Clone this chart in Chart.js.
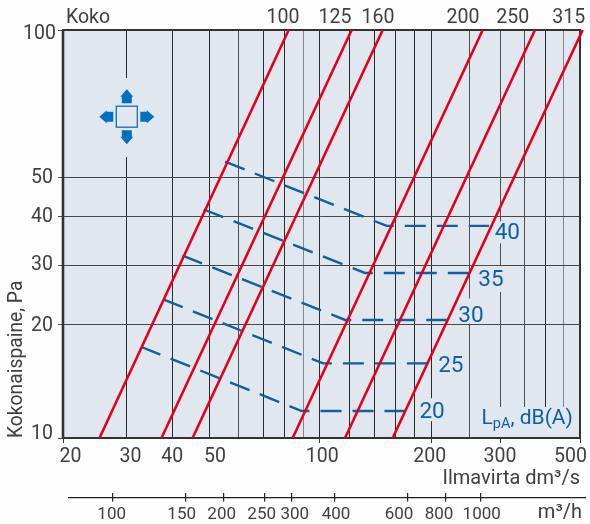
<!DOCTYPE html>
<html>
<head>
<meta charset="utf-8">
<style>html,body{margin:0;padding:0;background:#fdfdfd}canvas{display:block}</style>
<script src="https://cdn.jsdelivr.net/npm/chart.js@4"></script>
</head>
<body>
<canvas id="c" width="590" height="524"></canvas>
<script>
// ---- data ----
const pressureEnds = [10, 100];
const size100 = [25.3, 82.2];
const size125 = [37.4, 121.9];
const size160 = [45.1, 147.7];
const size200 = [84.3, 270.7];
const size250 = [117, 375];
const size315 = [157.1, 508.7];
const sizeLabels = ['100', '125', '160', '200', '250', '315'];

const db40Flow = [55.0, 151.4, 281.2];
const db40Pressure = [53.9, 37.9, 37.9];
const db35Flow = [48.2, 132.3, 251];
const db35Pressure = [41.7, 28.5, 28.5];
const db30Flow = [42.5, 117, 218.6];
const db30Pressure = [31.8, 20.7, 20.7];
const db25Flow = [37.8, 102.2, 194.4];
const db25Pressure = [23.8, 15.8, 15.8];
const db20Flow = [32.9, 89.3, 170.6];
const db20Pressure = [17.5, 11.8, 11.8];
const dbLabels = ['40', '35', '30', '25', '20'];

const flowGridTicks = [20, 30, 40, 50, 60, 70, 80, 90, 100, 120, 140, 160, 180, 200, 250, 300, 350, 400, 450, 500];
const flowLabelled = [20, 30, 40, 50, 100, 200, 300, 500];
const flowMarked = [20, 100, 200, 300, 500];
const pressureTicks = [10, 20, 30, 40, 50, 100];
const hourlyTicks = [100, 150, 200, 250, 300, 400, 600, 800, 1000];

// ---- styling ----
const FONT = 'Roboto';
const INK = '#3f3f42';
const RED = '#e2001a';
const BLUE = '#0f5fa3';
const PLOT = '#e0e7ef';

// log axis whose decades are as unevenly drawn as in the printed chart
class KnotLogScale extends Chart.LogarithmicScale {
  _seg(v) {
    const k = this.options.knots; let i = 0;
    while (i < k.length - 2 && v > k[i + 1][0]) i++;
    return [k[i], k[i + 1]];
  }
  _span() { return this.isHorizontal() ? [this.left, this.right] : [this.bottom, this.top]; }
  getPixelForValue(v) {
    if (v === null || v === undefined || isNaN(v)) return NaN;
    const [a, b] = this._seg(v);
    const f = a[1] + (Math.log(v / a[0]) / Math.log(b[0] / a[0])) * (b[1] - a[1]);
    const [s, e] = this._span();
    return s + f * (e - s);
  }
  getValueForPixel(p) {
    const [s, e] = this._span();
    const f = (p - s) / (e - s);
    const k = this.options.knots; let i = 0;
    while (i < k.length - 2 && f > k[i + 1][1]) i++;
    const a = k[i], b = k[i + 1];
    return a[0] * Math.pow(b[0] / a[0], (f - a[1]) / (b[1] - a[1]));
  }
  _computeLabelItems(ca) {
    const items = super._computeLabelItems(ca);
    const n = this.options.labelNudge || {};
    items.forEach((it, i) => {
      const t = this.ticks[i]; const d = t && n[t.label];
      if (d) { it.options.translation[0] += d[0]; it.options.translation[1] += d[1]; }
    });
    return items;
  }
}
KnotLogScale.id = 'knotlog';
KnotLogScale.defaults = Chart.LogarithmicScale.defaults;
Chart.register(KnotLogScale);

const flowKnots = [[20, 0], [30, .1219], [40, .2114], [50, .2843], [100, .4965], [200, .7132], [300, .8453], [500, 1]];
const pressureKnots = [[10, 0], [20, .2770], [30, .4230], [40, .5422], [50, .6380], [100, 1]];
const hourlyKnots = [[100, .0967], [150, .2379], [200, .3114], [250, .3897], [300, .4424], [400, .5255], [600, .6673], [800, .7402], [1000, .8085]];

const pts = (xs, ys) => xs.map((x, i) => ({ x, y: ys[i] }));
const redSet = (xs, label) => ({ label, data: pts(xs, pressureEnds), borderColor: RED, borderWidth: 2.6, pointRadius: 0, clip: false, tension: 0 });
const blueSet = (xs, ys, label) => ({ label, data: pts(xs, ys), borderColor: BLUE, borderWidth: 2.4, borderDash: [21, 11], pointRadius: 0, tension: 0 });

const dbOffsets = { '40': [18.2, 6.5], '35': [21, 6], '30': [24.3, -4.4], '25': [23.7, 2.2], '20': [26, 0.2] };
const dbMasks = { '40': [-13, -11, 26, 22], '35': [-13, -13, 26, 26], '30': [-13, -17, 26, 25], '25': [-13, -11, 26, 22], '20': [-13, -13, 26, 23] };
const noSidePadding = s => { s.paddingLeft = 0; s.paddingRight = 0; };

const decor = {
  id: 'decor',
  beforeDraw(chart) {
    const a = chart.chartArea, c = chart.ctx;
    c.save(); c.fillStyle = PLOT; c.fillRect(a.left, a.top, a.right - a.left, a.bottom - a.top); c.restore();
  },
  beforeDatasetsDraw(chart) {
    const a = chart.chartArea, c = chart.ctx, { x, y } = chart.scales;
    c.save();
    c.fillStyle = PLOT;
    dbLabels.forEach((l) => {
      const ds = chart.data.datasets.find(d => d.label === 'dB' + l);
      const p = ds.data[2], o = dbOffsets[l], m = dbMasks[l];
      const cx = x.getPixelForValue(p.x) + o[0], cy = y.getPixelForValue(p.y) + o[1];
      c.fillRect(cx + m[0], cy + m[1], m[2], m[3]);
    });
    c.fillRect(482, 407, 88, 30);
    c.fillRect(98, 78, 56, 79);
    c.strokeStyle = '#333335'; c.lineWidth = 2;
    c.strokeRect(a.left, a.top, a.right - a.left, a.bottom - a.top);
    c.lineWidth = 2.6; c.beginPath(); c.moveTo(a.left, a.top); c.lineTo(a.left, a.bottom); c.stroke();
    // second flow axis line
    c.strokeStyle = '#222'; c.lineWidth = 1.2;
    c.beginPath(); c.moveTo(68, 497.6); c.lineTo(586, 497.6); c.stroke();
    c.restore();
  },
  afterDatasetsDraw(chart) {
    const c = chart.ctx, { x, y } = chart.scales;
    c.save();
    c.fillStyle = BLUE; c.textAlign = 'center'; c.textBaseline = 'middle';
    c.font = '22.5px ' + FONT;
    dbLabels.forEach((l) => {
      const ds = chart.data.datasets.find(d => d.label === 'dB' + l);
      const p = ds.data[2], o = dbOffsets[l];
      c.fillText(l, x.getPixelForValue(p.x) + o[0], y.getPixelForValue(p.y) + o[1] + 1);
    });
    c.textAlign = 'left'; c.textBaseline = 'alphabetic';
    let tx = 481.5;
    c.font = '21px ' + FONT; c.fillText('L', tx, 424); tx += c.measureText('L').width;
    c.font = '14.5px ' + FONT; c.fillText('pA', tx, 428); tx += c.measureText('pA').width;
    c.font = '21px ' + FONT; c.fillText(', dB(A)', tx, 424);
    c.fillStyle = INK; c.textAlign = 'right'; c.font = '20px ' + FONT;
    c.fillText('m³/h', 582, 518);
    // airflow-direction symbol
    const cx = 126.8, cy = 116.7, A = '#0070c0';
    c.strokeStyle = '#1c6cb0'; c.lineWidth = 1.3; c.fillStyle = PLOT;
    c.fillRect(cx - 10.5, cy - 10.5, 21, 21); c.strokeRect(cx - 10.5, cy - 10.5, 21, 21);
    c.fillStyle = A;
    for (let r = 0; r < 4; r++) {
      c.save(); c.translate(cx, cy); c.rotate(r * Math.PI / 2);
      c.beginPath();
      c.moveTo(0, -27.5); c.lineTo(6.5, -20); c.lineTo(5, -20); c.lineTo(5, -13.5);
      c.lineTo(-5, -13.5); c.lineTo(-5, -20); c.lineTo(-6.5, -20); c.closePath(); c.fill();
      c.restore();
    }
    c.restore();
  }
};

const tickFont = { family: FONT, size: 19.5, weight: '400' };
new Chart(document.getElementById('c'), {
  type: 'line',
  data: {
    datasets: [
      redSet(size100, '100'), redSet(size125, '125'), redSet(size160, '160'),
      redSet(size200, '200'), redSet(size250, '250'), redSet(size315, '315'),
      blueSet(db40Flow, db40Pressure, 'dB40'), blueSet(db35Flow, db35Pressure, 'dB35'),
      blueSet(db30Flow, db30Pressure, 'dB30'), blueSet(db25Flow, db25Pressure, 'dB25'),
      blueSet(db20Flow, db20Pressure, 'dB20')
    ]
  },
  options: {
    responsive: false, animation: false, parsing: true,
    layout: { autoPadding: false, padding: { left: 0, top: 0, bottom: 0, right: 10 } },
    plugins: { legend: { display: false }, tooltip: { enabled: false }, title: { display: false } },
    scales: {
      x: {
        type: 'knotlog', position: 'bottom', min: 20, max: 500, weight: 0, knots: flowKnots,
        labelNudge: { '20': [7.5, 0], '30': [4.5, 0], '50': [5, 0], '100': [2.5, 0], '200': [-2, 0], '500': [-9.5, 0] },
        afterBuildTicks(s) { s.ticks = flowGridTicks.map(value => ({ value })); },
        afterFit(s) { s.height = 54.6; noSidePadding(s); },
        grid: {
          tickLength: 5, lineWidth: 1,
          color: c => [90, 450].includes(c.tick && c.tick.value) ? '#84868c' : [60, 350, 300, 250].includes(c.tick && c.tick.value) ? '#4e4f52' : '#2b2b2d',
          tickColor: c => flowMarked.includes(c.tick && c.tick.value) ? '#333' : 'rgba(0,0,0,0)'
        },
        border: { display: false },
        ticks: {
          autoSkip: false, maxRotation: 0, minRotation: 0, padding: 2, color: INK, font: tickFont,
          callback: v => flowLabelled.includes(v) ? String(v) : ''
        },
        title: { display: true, text: 'Ilmavirta dm³/s', align: 'end', color: INK, font: { family: FONT, size: 20, weight: '400' }, padding: { top: 0, bottom: 2 } }
      },
      x2: {
        type: 'knotlog', position: 'bottom', min: 100, max: 1000, weight: 1, knots: hourlyKnots,
        labelNudge: { '100': [-1.3, 0], '150': [-4.3, 0], '200': [-2.3, 0], '250': [-2.8, 0], '300': [3, 0], '400': [1.3, 0], '600': [-9, 0], '800': [-6.7, 0], '1000': [.7, 0] },
        afterBuildTicks(s) { s.ticks = hourlyTicks.map(value => ({ value })); },
        afterFit(s) { s.height = 31.4; noSidePadding(s); },
        grid: { drawOnChartArea: false, tickLength: 9, lineWidth: 1.2, tickColor: '#222' },
        border: { display: false },
        ticks: { autoSkip: false, maxRotation: 0, minRotation: 0, padding: 3, color: INK, font: { family: FONT, size: 17, weight: '400' }, callback: v => String(v) }
      },
      xTop: {
        type: 'knotlog', position: 'top', min: 20, max: 500, knots: flowKnots,
        labelNudge: { 'Koko': [25, 0], '100': [-5.7, 0], '125': [-16.7, 0], '160': [-4.7, 0], '200': [-19.7, 0], '250': [-22.3, 0], '315': [-14, 0] },
        afterBuildTicks(s) {
          const tops = [size100, size125, size160, size200, size250, size315].map(a => a[1]);
          s.ticks = [20].concat(tops).map(value => ({ value }));
        },
        afterFit(s) { s.height = 30; noSidePadding(s); },
        grid: { display: false, drawTicks: false }, border: { display: false },
        ticks: {
          autoSkip: false, maxRotation: 0, minRotation: 0, padding: 0, color: INK, font: tickFont,
          callback: (v, i) => i === 0 ? 'Koko' : sizeLabels[i - 1]
        }
      },
      y: {
        type: 'knotlog', position: 'left', min: 10, max: 100, knots: pressureKnots,
        labelNudge: { '100': [3, 4.5], '10': [0, -4], '20': [0, 1] },
        afterBuildTicks(s) { s.ticks = pressureTicks.map(value => ({ value })); },
        afterFit(s) { s.width = 63; s.paddingTop = 0; s.paddingBottom = 0; },
        grid: { color: '#47484a', tickColor: '#47484a', tickLength: 5, lineWidth: 1 },
        border: { display: false },
        ticks: { autoSkip: false, padding: 5, color: INK, font: tickFont, callback: v => String(v) },
        title: { display: true, text: 'Kokonaispaine, Pa', align: 'start', color: INK, font: { family: FONT, size: 19.3, weight: '400' }, padding: { top: 6, bottom: 0 } }
      }
    }
  },
  plugins: [decor]
});
</script>
</body>
</html>
